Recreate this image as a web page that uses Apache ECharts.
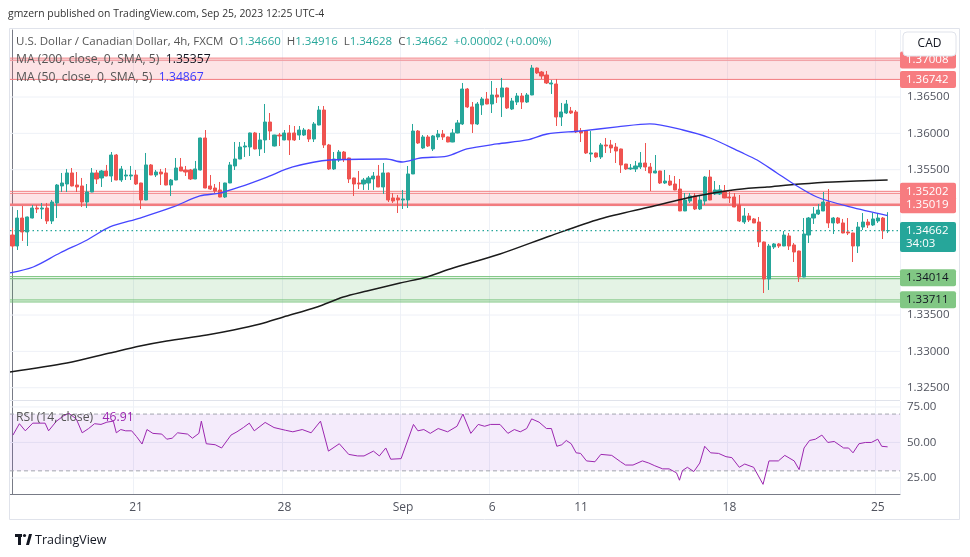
<!DOCTYPE html>
<html><head><meta charset="utf-8">
<script src="https://cdn.jsdelivr.net/npm/echarts@6/dist/echarts.min.js"></script>
<style>html,body{margin:0;padding:0;background:#fff;}#c{width:970px;height:557px;}</style>
</head><body><div id="c"></div>
<script>
const opens=[1.34601,1.34450,1.34835,1.34643,1.34835,1.34973,1.34959,1.34973,1.34794,1.35042,1.35276,1.35303,1.35455,1.35289,1.35276,1.35055,1.35193,1.35455,1.35386,1.35482,1.35413,1.35702,1.35358,1.35413,1.35413,1.35427,1.35317,1.35083,1.35565,1.35427,1.35468,1.35455,1.35289,1.35358,1.35537,1.35496,1.35496,1.35372,1.35496,1.35936,1.35276,1.35248,1.35221,1.35124,1.35317,1.35551,1.35647,1.35812,1.35812,1.36005,1.35785,1.35909,1.36156,1.35826,1.35977,1.35909,1.36005,1.36005,1.35977,1.35977,1.36046,1.35922,1.36115,1.36321,1.35840,1.35510,1.35633,1.35743,1.35661,1.35386,1.35317,1.35303,1.35317,1.35372,1.35413,1.35262,1.35455,1.35111,1.35111,1.35083,1.35083,1.35441,1.36032,1.35799,1.35950,1.35785,1.35950,1.35991,1.35950,1.35881,1.36005,1.36129,1.36610,1.36363,1.36129,1.36390,1.36473,1.36404,1.36528,1.36500,1.36624,1.36335,1.36431,1.36514,1.36431,1.36528,1.36899,1.36844,1.36803,1.36679,1.36679,1.36225,1.36280,1.36308,1.36294,1.36032,1.36032,1.35716,1.35730,1.35675,1.35840,1.35840,1.35812,1.35785,1.35578,1.35510,1.35510,1.35537,1.35592,1.35537,1.35455,1.35482,1.35317,1.35344,1.35303,1.35234,1.34932,1.35069,1.35138,1.34959,1.35069,1.35399,1.35166,1.35166,1.35207,1.35124,1.35124,1.35014,1.34780,1.34863,1.34822,1.34780,1.34505,1.33996,1.34436,1.34478,1.34450,1.34588,1.34464,1.34381,1.34023,1.34601,1.34835,1.34890,1.34932,1.35055,1.34767,1.34835,1.34767,1.34643,1.34629,1.34450,1.34711,1.34780,1.34739,1.34794,1.34835,1.34660];
const closes=[1.34450,1.34835,1.34643,1.34849,1.34973,1.34959,1.34973,1.34794,1.35055,1.35289,1.35317,1.35455,1.35276,1.35262,1.35055,1.35193,1.35455,1.35372,1.35482,1.35413,1.35702,1.35358,1.35510,1.35427,1.35427,1.35303,1.35083,1.35565,1.35427,1.35468,1.35441,1.35289,1.35358,1.35523,1.35482,1.35468,1.35372,1.35510,1.35936,1.35248,1.35234,1.35207,1.35124,1.35317,1.35565,1.35647,1.35812,1.35826,1.36005,1.35785,1.35909,1.36156,1.36032,1.35977,1.35964,1.36005,1.35909,1.35909,1.36046,1.36046,1.35922,1.36129,1.36321,1.35840,1.35510,1.35647,1.35743,1.35647,1.35372,1.35303,1.35303,1.35358,1.35386,1.35413,1.35262,1.35455,1.35083,1.35069,1.35083,1.35097,1.35441,1.36032,1.35867,1.35950,1.35826,1.35964,1.35991,1.35950,1.35881,1.36005,1.36143,1.36610,1.36363,1.36129,1.36404,1.36473,1.36404,1.36528,1.36500,1.36624,1.36349,1.36445,1.36514,1.36431,1.36528,1.36899,1.36831,1.36789,1.36693,1.36693,1.36225,1.36294,1.36404,1.36280,1.36019,1.36005,1.35730,1.35730,1.35675,1.35840,1.35826,1.35799,1.35757,1.35565,1.35510,1.35523,1.35551,1.35592,1.35537,1.35455,1.35482,1.35317,1.35344,1.35289,1.35221,1.34932,1.35083,1.35138,1.34959,1.35083,1.35399,1.35083,1.35221,1.35221,1.35111,1.35111,1.34987,1.34794,1.34863,1.34808,1.34767,1.34505,1.33996,1.34450,1.34478,1.34450,1.34601,1.34450,1.34367,1.34023,1.34615,1.34835,1.34890,1.34945,1.35055,1.34767,1.34835,1.34767,1.34629,1.34629,1.34450,1.34711,1.34780,1.34739,1.34822,1.34835,1.34660,1.34662];
const highs=[1.34698,1.34945,1.35000,1.34855,1.35014,1.35014,1.35042,1.35042,1.35083,1.35303,1.35455,1.35510,1.35523,1.35468,1.35386,1.35303,1.35523,1.35496,1.35496,1.35565,1.35743,1.35716,1.35551,1.35496,1.35551,1.35496,1.35320,1.35730,1.35578,1.35496,1.35510,1.35523,1.35372,1.35661,1.35661,1.35551,1.35510,1.35620,1.35940,1.36046,1.35427,1.35303,1.35331,1.35320,1.35606,1.35881,1.35881,1.35881,1.36010,1.36019,1.36005,1.36404,1.36280,1.35980,1.36005,1.36046,1.36115,1.36101,1.36101,1.36074,1.36060,1.36156,1.36376,1.36376,1.35854,1.35743,1.35771,1.35757,1.35665,1.35390,1.35482,1.35386,1.35413,1.35468,1.35565,1.35592,1.35460,1.35179,1.35152,1.35221,1.35551,1.36129,1.36046,1.35977,1.35977,1.35977,1.36046,1.36046,1.35955,1.36060,1.36184,1.36693,1.36624,1.36431,1.36431,1.36500,1.36569,1.36720,1.36624,1.36762,1.36630,1.36487,1.36555,1.36555,1.36555,1.36941,1.36905,1.36858,1.36858,1.36734,1.36748,1.36418,1.36459,1.36363,1.36321,1.36074,1.36035,1.36032,1.35735,1.35867,1.35936,1.35909,1.35867,1.35790,1.35580,1.35578,1.35620,1.35743,1.35867,1.35592,1.35702,1.35485,1.35496,1.35427,1.35413,1.35372,1.35179,1.35179,1.35179,1.35138,1.35413,1.35496,1.35344,1.35289,1.35289,1.35193,1.35179,1.35152,1.34973,1.34904,1.34835,1.34849,1.34510,1.34478,1.34491,1.34491,1.34656,1.34629,1.34491,1.34385,1.34835,1.34849,1.34987,1.35028,1.35193,1.35234,1.34849,1.34849,1.34822,1.34835,1.34632,1.34780,1.34904,1.34822,1.34904,1.34904,1.34849,1.34916];
const lows=[1.34423,1.34395,1.34519,1.34450,1.34830,1.34904,1.34822,1.34753,1.34753,1.34835,1.35193,1.35193,1.35270,1.35193,1.34987,1.34973,1.35190,1.35303,1.35262,1.35410,1.35331,1.35355,1.35331,1.35358,1.35358,1.35289,1.34959,1.35080,1.35425,1.35399,1.35289,1.35285,1.35138,1.35355,1.35480,1.35413,1.35358,1.35370,1.35490,1.35245,1.35221,1.35179,1.35120,1.35111,1.35315,1.35496,1.35645,1.35675,1.35688,1.35780,1.35688,1.35730,1.35909,1.35820,1.35826,1.35905,1.35702,1.35895,1.35909,1.35964,1.35881,1.35881,1.36110,1.35799,1.35496,1.35496,1.35606,1.35606,1.35317,1.35138,1.35234,1.35221,1.35221,1.35221,1.35260,1.35166,1.35055,1.35042,1.34904,1.34959,1.34973,1.35440,1.35854,1.35785,1.35812,1.35757,1.35909,1.35909,1.35878,1.35878,1.36000,1.36115,1.36349,1.36005,1.36115,1.36253,1.36400,1.36280,1.36418,1.36225,1.36335,1.36321,1.36390,1.36335,1.36418,1.36525,1.36817,1.36748,1.36679,1.36542,1.36101,1.36101,1.36266,1.36266,1.36005,1.35881,1.35716,1.35606,1.35661,1.35647,1.35730,1.35730,1.35592,1.35455,1.35496,1.35496,1.35468,1.35510,1.35482,1.35207,1.35450,1.35303,1.35303,1.35276,1.35218,1.34930,1.34930,1.35042,1.34945,1.34945,1.35014,1.35080,1.35152,1.35152,1.35108,1.35042,1.34985,1.34780,1.34753,1.34780,1.34765,1.34436,1.33803,1.33845,1.34409,1.34423,1.34448,1.34395,1.34230,1.33955,1.34020,1.34491,1.34753,1.34877,1.34930,1.34698,1.34615,1.34753,1.34625,1.34601,1.34230,1.34354,1.34670,1.34698,1.34725,1.34767,1.34546,1.34628];
// moving averages: [bar position, value]
const ma200Points=[[-0.5,1.32716],[11,1.32840],[19.7,1.32978],[25.8,1.33074],[31.2,1.33143],[39.3,1.33226],[44.7,1.33294],[50.1,1.33377],[54.8,1.33473],[61.6,1.33611],[66.9,1.33748],[71.7,1.33831],[78.4,1.33941],[83.8,1.34024],[88.5,1.34134],[98.6,1.34340],[108.7,1.34588],[118.8,1.34822],[128.9,1.34987],[138.4,1.35138],[145.7,1.35221],[152.6,1.35262],[159.3,1.35303],[165.9,1.35331],[177,1.35357]];
const ma50Points=[[-0.5,1.34079],[4.2,1.34161],[9.6,1.34354],[15.1,1.34533],[19.7,1.34712],[25.8,1.34835],[32.5,1.34987],[37.9,1.35138],[42,1.35179],[46,1.35262],[51.5,1.35399],[56.7,1.35537],[64.2,1.35633],[75.6,1.35647],[78.8,1.35606],[82.5,1.35661],[87.9,1.35688],[91.9,1.35785],[98,1.35854],[104.1,1.35909],[108.1,1.35991],[114.8,1.36032],[122.3,1.36088],[128.9,1.36129],[135.6,1.36046],[141.1,1.35936],[147.2,1.35744],[150.6,1.35633],[154.6,1.35455],[158,1.35303],[162.7,1.35124],[169.4,1.34987],[177,1.34867]];
const rsiPoints=[[0.1,55.2],[1.4,63.2],[2.6,58.2],[4.1,63.6],[6.6,63.6],[7.3,58.2],[8.9,65],[10.4,68.9],[11.4,70.5],[12.9,66.6],[14.1,56.8],[15.4,59.8],[16.6,63.2],[17.9,62.7],[19.1,64.3],[20.4,65],[21,56.8],[21.9,59.1],[22.9,58.2],[24.1,58.2],[25.1,54.1],[26.2,48.9],[27.2,59.1],[28.4,56.4],[30.2,55.9],[31.2,52.3],[32.3,53],[33.4,56.8],[35.4,55.9],[36.4,53],[37.7,56.4],[38.2,65],[39.2,49.1],[41,48.4],[42.3,46.1],[44.2,55.2],[45.4,57.5],[46.7,60.5],[47.9,63.6],[48.9,58.2],[51.1,64.1],[52.9,60.5],[55.2,58.6],[56.7,57.5],[58.6,59.1],[60.4,56.8],[62.3,65],[63.9,43.9],[66.1,49.1],[68,41.6],[69.8,40.5],[71.1,40.5],[73,43.9],[74.2,40.5],[75.5,46.1],[76.5,38.2],[78.6,38.6],[81.1,62.7],[82,58.2],[83.2,59.1],[84.5,56.4],[86.1,59.8],[88,57.5],[89.9,61.4],[91.1,70],[92.7,56.4],[94.2,62.7],[95.5,61.4],[96.7,62.7],[98.6,62.7],[100.2,56.4],[101.5,59.1],[102.7,57.5],[104,59.8],[105,66.6],[106.5,64.3],[108,59.8],[109,59.8],[110.1,47.3],[111.1,48.4],[112,51.4],[113,49.1],[114,42.7],[114.9,42.3],[116.1,37],[117.8,36.4],[119,41.6],[121.2,40.9],[123,36.4],[124,34.1],[125.5,34.1],[127.4,37],[128.7,35.5],[129.9,33.6],[131.5,31.4],[132.8,31.4],[134.3,28.6],[134.9,23.4],[135.5,30.2],[136.5,32.5],[137.8,29.5],[139,35.5],[140,47.3],[141.2,42.7],[142.8,42.3],[144.3,40],[145.5,39.3],[147,32.5],[148.1,34.8],[149.9,32.5],[151.8,20.5],[153,37],[154.9,37],[156.2,40.9],[158.1,37],[159.1,30.9],[160.1,46.1],[161.2,51.4],[162.4,52.3],[163.7,55.2],[164.9,50],[166.2,50.7],[168.1,46.1],[169.1,46.1],[170,42.7],[171.2,49.1],[172.5,50],[173.7,50],[175,52.3],[175.8,47.3],[177,46.91]];
const dayLabels={25:'21',55:'28',79:'Sep',97:'6',115:'11',145:'18',175:'25'};
const slotCount=180;
const priceTicks=[1.325,1.33,1.335,1.355,1.36,1.365];
const priceGridLevels=[1.325,1.33,1.335,1.34,1.345,1.35,1.355,1.36,1.365,1.37];
const rsiTicks=[25,50,75];
const rsiBand=[70,30];
const redZones=[[1.37008,1.36742],[1.35175,1.35019]];
const redLines=[1.37035,1.37008,1.36742,1.35202,1.35175];
const redThickLines=[1.35019];
const greenZones=[[1.34000,1.33707]];
const greenLines=[1.34028,1.34000,1.33707,1.33680];
const redBadges=[1.37008,1.36742,1.35202,1.35019];
const greenBadges=[1.34014,1.33711];
const countdown='34:03';

const FONT="'Open Sans','Noto Sans',sans-serif";
const UP='#26a69a', DOWN='#ef5350', TXT='#50535e', GRID='#eef1f7';
const last=opens.length-1;
const categories=Array.from({length:slotCount},(_,i)=>String(i));
const candles=opens.map((o,i)=>[o,closes[i],lows[i],highs[i]]);
const chart=echarts.init(document.getElementById('c'),null,{renderer:'canvas'});
const isDay=(i)=>dayLabels[i]!==undefined;
const f5=v=>v.toFixed(5);
const X0=-0.5, X1=slotCount-0.5;

// horizontal level drawn as a two-point line spanning the axis extent
function hline(v,style,z,xi,yi,extra){
  return Object.assign({type:'line',xAxisIndex:xi===undefined?1:xi,yAxisIndex:yi||0,data:[[X0,v],[X1,v]],
    showSymbol:false,symbol:'none',silent:true,z:z,lineStyle:style,animation:false},extra||{});
}
const series=[];
priceGridLevels.forEach(v=>series.push(hline(v,{color:GRID,width:1},0)));
redZones.forEach(zn=>series.push(hline(zn[0],{width:0,opacity:0},1,1,0,
  {markArea:{silent:true,itemStyle:{color:'rgba(242,54,69,0.14)'},data:[[{yAxis:zn[0]},{yAxis:zn[1]}]]}})));
greenZones.forEach(zn=>series.push(hline(zn[0],{width:0,opacity:0},1,1,0,
  {markArea:{silent:true,itemStyle:{color:'rgba(76,175,80,0.15)'},data:[[{yAxis:zn[0]},{yAxis:zn[1]}]]}})));
redLines.forEach(v=>series.push(hline(v,{color:'#f27c80',width:1},2)));
redThickLines.forEach(v=>series.push(hline(v,{color:'#f27c80',width:2.5},2)));
greenLines.forEach(v=>series.push(hline(v,{color:'#6fbf73',width:1},2)));
series.push({type:'candlestick',name:'USDCAD',xAxisIndex:0,yAxisIndex:0,data:candles,z:3,barWidth:'72%',
  itemStyle:{color:UP,color0:DOWN,borderColor:UP,borderColor0:DOWN,borderWidth:1}});
series.push({type:'line',name:'MA200',xAxisIndex:1,yAxisIndex:0,data:ma200Points,z:4,showSymbol:false,smooth:0.3,
  lineStyle:{color:'#1b1b1b',width:1.5}});
series.push({type:'line',name:'MA50',xAxisIndex:1,yAxisIndex:0,data:ma50Points,z:4,showSymbol:false,smooth:0.3,
  lineStyle:{color:'#4646ff',width:1.3}});
series.push(hline(closes[last],{color:UP,width:1.2,type:[1.5,3]},5));
// RSI pane
rsiTicks.forEach(v=>series.push(hline(v,{color:GRID,width:1},0,3,1)));
series.push(hline(rsiBand[0],{width:0,opacity:0},1,3,1,
  {markArea:{silent:true,itemStyle:{color:'rgba(149,60,220,0.1)'},data:[[{yAxis:rsiBand[0]},{yAxis:rsiBand[1]}]]}}));
rsiBand.forEach(v=>series.push(hline(v,{color:'#a3a6af',width:1,type:[4,3]},2,3,1)));
series.push({type:'line',name:'RSI',xAxisIndex:3,yAxisIndex:1,data:rsiPoints,z:4,showSymbol:false,
  lineStyle:{color:'#9c27b0',width:1}});

const option={
  animation:false,
  backgroundColor:'#ffffff',
  grid:[{left:10,right:70,top:30,height:370},{left:10,right:70,top:401,height:93}],
  xAxis:[
    {type:'category',gridIndex:0,data:categories,boundaryGap:true,axisLine:{show:false},axisTick:{show:false},axisLabel:{show:false},
     splitLine:{show:true,interval:(i)=>isDay(i),lineStyle:{color:GRID,width:1}}},
    {type:'value',gridIndex:0,min:X0,max:X1,show:false},
    {type:'category',gridIndex:1,data:categories,boundaryGap:true,axisLine:{show:true,lineStyle:{color:'#787b86'}},axisTick:{show:false},
     axisLabel:{interval:(i)=>isDay(i),formatter:(v,i)=>dayLabels[i]||'',color:TXT,fontSize:12,fontFamily:FONT,margin:8},
     splitLine:{show:true,interval:(i)=>isDay(i),lineStyle:{color:GRID,width:1}}},
    {type:'value',gridIndex:1,min:X0,max:X1,show:false}
  ],
  yAxis:[
    {type:'value',gridIndex:0,position:'right',min:1.32331,max:1.37422,
     axisLine:{show:true,lineStyle:{color:'#787b86'}},axisTick:{show:false},splitLine:{show:false},
     axisLabel:{customValues:priceTicks,formatter:f5,color:TXT,fontSize:11.5,fontFamily:FONT,margin:7}},
    {type:'value',gridIndex:1,position:'right',min:13.7,max:79.2,
     axisLine:{show:true,lineStyle:{color:'#787b86'}},axisTick:{show:false},splitLine:{show:false},
     axisLabel:{customValues:rsiTicks,formatter:v=>v.toFixed(2),color:TXT,fontSize:11.5,fontFamily:FONT,margin:7}}
  ],
  series:series
};
chart.setOption(option);

function badge(v,bg,fg,lines){
  const y=chart.convertToPixel({yAxisIndex:0},v);
  const h=lines.length>1?30:17;
  const els=[{type:'rect',shape:{x:900,y:y-8.5,width:56,height:h,r:2},style:{fill:bg},z:50}];
  lines.forEach((t,k)=>els.push({type:'text',x:906,y:y+k*13,style:{text:t,fill:fg,font:'11.5px '+FONT,textVerticalAlign:'middle'},z:51}));
  return els;
}
const g=[];
g.push({type:'rect',shape:{x:9.5,y:28.5,width:950,height:491},style:{fill:null,stroke:'#e0e3eb',lineWidth:1},z:20,silent:true});
g.push({type:'line',shape:{x1:10,y1:400.5,x2:900,y2:400.5},style:{stroke:'#e0e3eb',lineWidth:1},z:20});
g.push({type:'text',x:8,y:14,style:{text:'gmzern published on TradingView.com, Sep 25, 2023 12:25 UTC-4',fill:'#333',font:'10.4px '+FONT,textVerticalAlign:'middle'},z:30});
const LF='11.5px '+FONT, MF='12.2px '+FONT;
g.push({type:'text',x:16,y:42,z:30,style:{textVerticalAlign:'middle',font:LF,
  text:'{n|U.S. Dollar / Canadian Dollar, 4h, FXCM}  {n|O}{v|'+f5(opens[last])+'}  {n|H}{v|'+f5(highs[last])+'}  {n|L}{v|'+f5(lows[last])+'}  {n|C}{v|'+f5(closes[last])+'}  {v|+'+(closes[last]-opens[last]).toFixed(5)+' (+0.00%)}',
  rich:{n:{fill:'#555',font:LF},v:{fill:UP,font:LF}}}});
g.push({type:'text',x:16,y:60,z:30,style:{textVerticalAlign:'middle',font:MF,
  text:'{n|MA (200, close, 0, SMA, 5)}  {v|'+f5(ma200Points[ma200Points.length-1][1])+'}',
  rich:{n:{fill:'#555',font:MF},v:{fill:'#131722',font:MF}}}});
g.push({type:'text',x:16,y:78,z:30,style:{textVerticalAlign:'middle',font:MF,
  text:'{n|MA (50, close, 0, SMA, 5)}  {v|'+f5(ma50Points[ma50Points.length-1][1])+'}',
  rich:{n:{fill:'#555',font:MF},v:{fill:'#3b3bff',font:MF}}}});
g.push({type:'text',x:16,y:418,z:30,style:{textVerticalAlign:'middle',font:MF,
  text:'{n|RSI (14, close)}   {v|'+rsiPoints[rsiPoints.length-1][1].toFixed(2)+'}',
  rich:{n:{fill:'#555',font:MF},v:{fill:'#9c27b0',font:MF}}}});
redBadges.forEach(v=>g.push(...badge(v,'#f77c80','#ffffff',[f5(v)])));
greenBadges.forEach(v=>g.push(...badge(v,'#81c784','#131722',[f5(v)])));
g.push(...badge(closes[last],UP,'#ffffff',[f5(closes[last]),countdown]));
g.push({type:'rect',shape:{x:903,y:32,width:53,height:24,r:4},style:{fill:'#fff',stroke:'#e0e3eb',lineWidth:1},z:60});
g.push({type:'text',x:929.5,y:44,style:{text:'CAD',fill:'#131722',font:'12px '+FONT,textAlign:'center',textVerticalAlign:'middle'},z:61});
g.push({type:'rect',shape:{x:15,y:534,width:7,height:3},style:{fill:'#131722'},z:30});
g.push({type:'rect',shape:{x:18,y:534,width:3,height:11},style:{fill:'#131722'},z:30});
g.push({type:'circle',shape:{cx:24.5,cy:535.5,r:1.6},style:{fill:'#131722'},z:30});
g.push({type:'polygon',shape:{points:[[26,545],[29,534],[32,534],[29,545]]},style:{fill:'#131722'},z:30});
g.push({type:'text',x:35,y:540,style:{text:'TradingView',fill:'#131722',font:'12.5px '+FONT,textVerticalAlign:'middle'},z:30});
chart.setOption({graphic:g});
</script></body></html>
